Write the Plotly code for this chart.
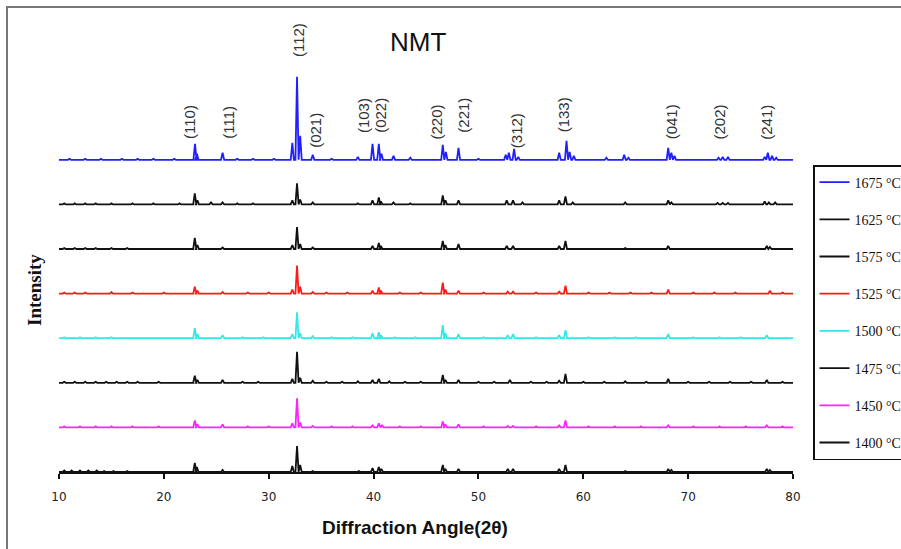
import plotly.graph_objects as go

# ---------------- data ----------------
series_names = ["1675 °C", "1625 °C", "1575 °C", "1525 °C",
                "1500 °C", "1475 °C", "1450 °C", "1400 °C"]
series_colors = ["#1f1fff", "#111111", "#111111", "#ff1a1a",
                 "#33e8e8", "#111111", "#ff22ff", "#111111"]
# vertical offset of each pattern (intensity units)
series_offsets = [312.2, 267.6, 223.0, 178.4, 133.8, 89.2, 44.6, 0.0]

# peaks: (2theta, intensity above baseline)
peaks_1675 = [(11.0, 1), (12.5, 1), (14.0, 1), (16.0, 1), (17.5, 1), (19.0, 1), (21.0, 1),
              (22.97, 16), (23.15, 6), (25.6, 7), (27.0, 1), (28.5, 1), (30.5, 1),
              (32.25, 17), (32.7, 83), (33.0, 24), (34.2, 5), (36.0, 1), (38.5, 3),
              (39.9, 16), (40.5, 16), (40.75, 6), (41.9, 4), (43.5, 2),
              (46.6, 15), (46.9, 8), (48.1, 12), (50.0, 1), (52.6, 5), (52.9, 7),
              (53.4, 11), (53.8, 3), (57.7, 7), (58.4, 19), (58.7, 8), (59.1, 4),
              (62.2, 2), (63.9, 5), (64.3, 2), (68.1, 12), (68.4, 7), (68.7, 4),
              (72.9, 2), (73.3, 3), (73.8, 3), (77.3, 3), (77.6, 7), (78.0, 4), (78.4, 2)]
peaks_1625 = [(10.5, 1), (11.5, 1), (12.5, 1), (13.5, 1), (15.0, 1), (17.0, 1), (19.0, 1), (21.5, 1),
              (22.95, 11), (23.2, 4), (24.5, 2), (25.6, 2), (27.0, 1), (28.5, 1),
              (32.25, 4), (32.7, 21), (33.0, 5), (34.2, 2), (38.5, 1),
              (39.9, 4), (40.5, 7), (40.7, 3), (41.9, 2), (43.5, 1),
              (46.6, 9), (46.85, 4), (48.1, 4), (52.7, 4), (53.3, 4), (54.2, 2),
              (57.7, 4), (58.3, 8), (59.0, 2), (64.0, 2), (68.1, 4), (68.4, 2),
              (72.8, 1.5), (73.3, 1.5), (73.8, 1.5), (77.3, 3), (77.7, 2), (78.3, 2)]
peaks_1575 = [(10.5, 1), (11.5, 1), (12.5, 1), (13.5, 1), (15.0, 1), (16.5, 1),
              (22.95, 11), (23.2, 4), (25.6, 1.5),
              (32.25, 4), (32.7, 22), (33.0, 5), (34.2, 1.5),
              (39.9, 3), (40.5, 6), (40.7, 3),
              (46.6, 8), (46.85, 4), (48.1, 5), (52.7, 3), (53.3, 3),
              (57.7, 3), (58.3, 8), (64.0, 1), (68.1, 3), (77.5, 3), (77.8, 2)]
peaks_1525 = [(10.5, 1), (11.5, 1), (12.5, 1), (15.0, 1.5), (17.0, 1), (20.0, 1),
              (22.95, 7), (23.2, 3), (25.6, 1.5), (28.0, 1), (30.0, 1),
              (32.25, 4), (32.7, 28), (33.0, 7), (34.2, 1.5), (35.5, 1), (37.5, 1),
              (39.9, 3), (40.5, 6), (40.7, 3), (42.5, 1), (44.5, 1),
              (46.6, 11), (46.85, 4), (48.1, 3), (50.5, 1), (52.8, 2), (53.3, 2), (55.5, 1),
              (57.7, 2), (58.3, 8), (60.5, 1), (62.5, 1), (64.5, 1), (66.5, 1),
              (68.1, 4), (70.5, 1), (72.5, 1), (74.5, 1), (77.8, 3), (79.0, 1)]
peaks_1500 = [(10.5, 1), (12.0, 1), (13.5, 1), (15.0, 1),
              (22.95, 10), (23.2, 4), (25.6, 3), (27.5, 1), (29.5, 1),
              (32.25, 4), (32.7, 26), (33.0, 5), (34.2, 2), (36.0, 1), (38.0, 1),
              (39.9, 5), (40.5, 6), (40.7, 3), (42.0, 1), (44.0, 1),
              (46.6, 13), (46.85, 5), (48.1, 4), (50.5, 1), (52.8, 3), (53.3, 4),
              (55.5, 1), (57.7, 3), (58.3, 8), (60.5, 1), (63.0, 1), (65.0, 1),
              (68.1, 4), (70.5, 1), (73.0, 1), (75.0, 1), (77.5, 3)]
peaks_1475 = [(10.5, 1), (11.5, 1), (12.5, 1), (13.5, 1), (14.5, 1), (15.5, 1), (16.5, 1), (17.5, 1),
              (19.5, 1), (22.95, 7), (23.2, 3), (25.6, 3), (27.5, 1), (29.0, 1),
              (32.25, 4), (32.7, 31), (33.0, 5), (34.2, 2), (35.5, 1), (37.0, 1), (38.5, 1.5),
              (39.9, 3), (40.5, 4), (41.5, 1.5), (43.0, 1), (44.5, 1),
              (46.6, 8), (46.85, 3), (48.1, 3), (50.0, 1), (51.5, 1), (53.0, 3),
              (55.0, 1), (56.5, 1), (57.7, 2), (58.3, 9), (60.0, 1), (62.0, 1), (64.0, 1.5),
              (66.0, 1), (68.1, 4), (70.0, 1), (72.0, 1), (74.0, 1), (76.0, 1), (77.5, 3), (79.0, 1)]
peaks_1450 = [(10.5, 1), (12.0, 1), (13.5, 1), (15.0, 1), (17.0, 1), (19.5, 1),
              (22.95, 7), (23.2, 3), (25.6, 3), (28.0, 1), (30.0, 1),
              (32.25, 4), (32.7, 29), (33.0, 5), (34.2, 1.5), (36.0, 1), (38.0, 1),
              (39.9, 2), (40.5, 4), (40.8, 2), (42.5, 1), (44.5, 1),
              (46.6, 6), (46.85, 3), (48.1, 3), (50.5, 1), (52.8, 1.5), (53.3, 1.5),
              (55.5, 1), (57.7, 2), (58.3, 7), (60.5, 1), (63.0, 1), (65.5, 1),
              (68.1, 2), (70.5, 1), (73.0, 1), (75.5, 1), (77.5, 2), (79.0, 1)]
peaks_1400 = [(10.5, 1.5), (11.2, 1.5), (12.0, 1.5), (12.8, 1.5), (13.6, 1.5), (14.3, 1), (15.2, 1), (16.5, 1),
              (22.95, 9), (23.15, 5), (25.6, 2),
              (32.25, 6), (32.7, 26), (33.0, 7), (34.2, 1), (38.6, 1),
              (39.9, 4), (40.5, 5), (40.75, 3),
              (46.6, 7), (46.85, 3), (48.1, 3), (52.8, 3), (53.3, 3),
              (57.7, 3), (58.3, 7), (64.0, 1), (68.1, 3), (68.4, 2), (77.5, 3), (77.8, 2)]
series_peaks = [peaks_1675, peaks_1625, peaks_1575, peaks_1525,
                peaks_1500, peaks_1475, peaks_1450, peaks_1400]

# Miller-index labels: (label, 2theta position, intensity position)
hkl_labels = ["(110)", "(111)", "(112)", "(021)", "(103)", "(022)", "(220)",
              "(221)", "(312)", "(133)", "(041)", "(202)", "(241)"]
hkl_x = [22.4, 26.1, 32.8, 34.4, 39.0, 40.6, 46.0, 48.5, 53.6, 58.1, 68.4, 72.9, 77.4]
hkl_y = [350, 350, 432, 342, 356, 357, 350, 357, 341, 357, 350, 350, 350]

x_ticks = [10, 20, 30, 40, 50, 60, 70, 80]

X_MIN, X_MAX = 10, 80
HALF_WIDTH = 0.15


def build_pattern(peaks, offset):
    xs, ys = [X_MIN], [offset]
    for pos, h in sorted(peaks):
        xs += [pos - HALF_WIDTH, pos, pos + HALF_WIDTH]
        ys += [offset, offset + h, offset]
    xs.append(X_MAX)
    ys.append(offset)
    return xs, ys


fig = go.Figure()
for i, (name, color, off, pk) in enumerate(zip(series_names, series_colors,
                                                series_offsets, series_peaks)):
    xs, ys = build_pattern(pk, off)
    fig.add_trace(go.Scatter(x=xs, y=ys, mode="lines", name=name,
                             legendgroup=f"g{i}",
                             line=dict(color=color, width=1.8),
                             hoverinfo="skip"))

for lab, lx, ly in zip(hkl_labels, hkl_x, hkl_y):
    fig.add_annotation(x=lx, y=ly, xref="x", yref="y", text=lab, showarrow=False,
                       textangle=-90, xanchor="center", yanchor="middle",
                       font=dict(family="Liberation Sans", size=15, color="#333333"))

# Title and axis titles
fig.add_annotation(x=(418 - 59) / 734, y=(472 - 42) / 450, xref="paper", yref="paper",
                   text="NMT", showarrow=False, xanchor="center", yanchor="middle",
                   font=dict(family="Liberation Sans", size=26, color="#111111"))
fig.add_annotation(x=(415 - 59) / 734, y=(472 - 527) / 450, xref="paper", yref="paper",
                   text="<b>Diffraction Angle(2θ)</b>", showarrow=False,
                   xanchor="center", yanchor="middle",
                   font=dict(family="Liberation Sans", size=19, color="#111111"))
fig.add_annotation(x=(34 - 59) / 734, y=(472 - 290) / 450, xref="paper", yref="paper",
                   text="<b>Intensity</b>", showarrow=False, textangle=-90,
                   xanchor="center", yanchor="middle",
                   font=dict(family="Liberation Serif", size=19, color="#111111"))

# outer frame of the original figure
fig.add_shape(type="rect", xref="paper", yref="paper",
              x0=(7 - 59) / 734, x1=1.4, y0=-0.4, y1=(472 - 7) / 450,
              line=dict(color="#777777", width=2), fillcolor="rgba(0,0,0,0)")

fig.update_xaxes(range=[X_MIN, X_MAX], tickvals=x_ticks, ticktext=[str(t) for t in x_ticks],
                 showline=True, linecolor="#111111", linewidth=1.5,
                 ticks="outside", ticklen=5, tickwidth=1.5, tickcolor="#111111",
                 ticklabelstandoff=8,
                 tickfont=dict(family="DejaVu Sans", size=12, color="#222222"),
                 showgrid=False, zeroline=False)
fig.update_yaxes(range=[0, 450], visible=False, showgrid=False, zeroline=False)

fig.update_layout(
    width=901, height=549,
    margin=dict(l=59, r=108, t=22, b=77, autoexpand=False),
    paper_bgcolor="white", plot_bgcolor="white",
    showlegend=True,
    legend=dict(x=(813 - 59) / 734, y=(472 - 165) / 450, xanchor="left", yanchor="top",
                bgcolor="white", bordercolor="#111111", borderwidth=1.5,
                font=dict(family="Liberation Serif", size=14, color="#111111"),
                tracegroupgap=16, traceorder="grouped"),
)

fig.write_html("out.html")
